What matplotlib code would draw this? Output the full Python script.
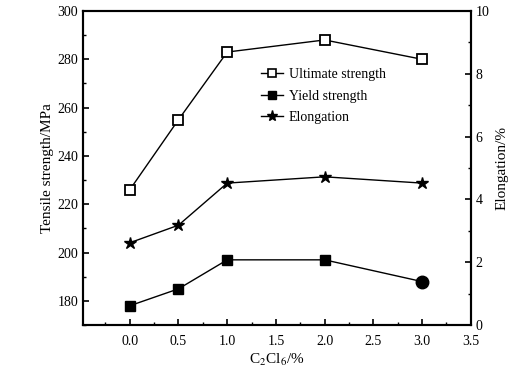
import matplotlib
matplotlib.use("Agg")
import matplotlib.pyplot as plt
from matplotlib.ticker import MultipleLocator
from matplotlib.lines import Line2D

plt.rcParams['font.family'] = ['Liberation Serif', 'DejaVu Serif']
plt.rcParams['mathtext.fontset'] = 'stix'

x = [0.0, 0.5, 1.0, 2.0, 3.0]
ultimate = [226, 255, 283, 288, 280]
yield_s = [178, 185, 197, 197, 188]
elongation = [2.62, 3.18, 4.52, 4.72, 4.52]

fig = plt.figure(figsize=(5.32, 3.78), dpi=100)
ax = fig.add_axes([0.156, 0.140, 0.729, 0.831])
ax2 = ax.twinx()

ax.plot(x, ultimate, '-', color='black', lw=1.0, marker='s', ms=7,
        mfc='white', mec='black', mew=1.3)
ax.plot(x, yield_s, '-', color='black', lw=1.0)
ax.plot(x[:-1], yield_s[:-1], 's', color='black', ms=7, ls='none')
ax.plot(x[-1:], yield_s[-1:], 'o', color='black', ms=9, ls='none')
ax2.plot(x, elongation, '-', color='black', lw=1.0, marker='*', ms=9)

ax.set_xlim(-0.48, 3.5)
ax.set_ylim(170, 300)
ax2.set_ylim(0, 10)

ax.xaxis.set_major_locator(MultipleLocator(0.5))
ax.xaxis.set_minor_locator(MultipleLocator(0.25))
ax.yaxis.set_major_locator(MultipleLocator(20))
ax.yaxis.set_minor_locator(MultipleLocator(10))
ax2.yaxis.set_major_locator(MultipleLocator(2))
ax2.yaxis.set_minor_locator(MultipleLocator(1))

ax.set_xticks([0, 0.5, 1.0, 1.5, 2.0, 2.5, 3.0, 3.5])
ax.set_xticklabels(['0.0', '0.5', '1.0', '1.5', '2.0', '2.5', '3.0', '3.5'])

for a in (ax, ax2):
    a.tick_params(which='major', direction='in', length=4, width=1.2, labelsize=10)
    a.tick_params(which='minor', direction='in', length=2.5, width=1.0)
    for s in a.spines.values():
        s.set_linewidth(1.5)
ax.tick_params(axis='x', pad=7)

ax.set_xlabel(r'C$_2$Cl$_6$/%', fontsize=11, labelpad=3)
ax.set_ylabel('Tensile strength/MPa', fontsize=11, labelpad=2)
ax2.set_ylabel('Elongation/%', fontsize=11, labelpad=4)

handles = [
    Line2D([], [], color='black', lw=1.0, marker='s', ms=6, mfc='white', mec='black', mew=1.2),
    Line2D([], [], color='black', lw=1.0, marker='s', ms=6),
    Line2D([], [], color='black', lw=1.0, marker='*', ms=8),
]
ax.legend(handles, ['Ultimate strength', 'Yield strength', 'Elongation'],
          loc='upper left', bbox_to_anchor=(0.445, 0.835), frameon=False,
          fontsize=10, handlelength=1.6, handletextpad=0.4, labelspacing=0.6,
          borderaxespad=0)

fig.savefig('out.png', dpi=100)
